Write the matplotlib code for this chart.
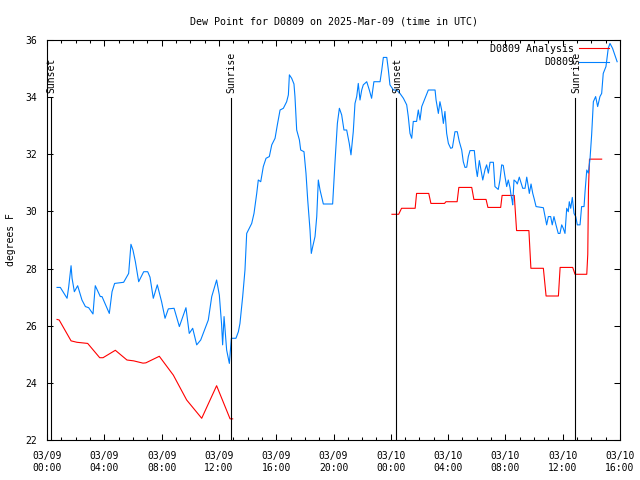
import numpy as np
import matplotlib
matplotlib.use("Agg")
import matplotlib.pyplot as plt

# hours since 2025-03-09 00:00 UTC
obs_hours = [0.70, 0.93, 1.40, 1.51, 1.68, 1.75, 1.91, 2.14, 2.44, 2.68, 2.91, 3.21, 3.37, 3.72, 3.84,
             4.19, 4.35, 4.54, 4.72, 5.35, 5.70, 5.86, 6.00, 6.17, 6.40, 6.75, 7.03, 7.19, 7.42, 7.70,
             8.00, 8.24, 8.47, 8.87, 9.24, 9.70, 9.93, 10.17, 10.45, 10.73, 11.26, 11.50, 11.84, 12.03,
             12.19, 12.26, 12.36, 12.54, 12.73, 12.87, 13.19, 13.36, 13.47, 13.66, 13.82, 13.94, 14.29,
             14.45, 14.64, 14.75, 14.92, 15.10, 15.29, 15.52, 15.69, 15.92, 16.08, 16.27, 16.50, 16.73,
             16.85, 16.92, 17.08, 17.24, 17.31, 17.43, 17.62, 17.71, 17.94, 18.08, 18.20, 18.36, 18.45,
             18.55, 18.71, 18.83, 18.94, 19.06, 19.29, 19.94, 20.10, 20.27, 20.41, 20.57, 20.73, 20.92,
             21.10, 21.22, 21.38, 21.50, 21.62, 21.73, 21.85, 21.97, 22.08, 22.32, 22.50, 22.66, 22.82,
             23.25, 23.37, 23.48, 23.72, 23.83, 23.94, 24.18, 24.41, 24.64, 24.88, 25.11, 25.22, 25.34,
             25.46, 25.57, 25.80, 25.92, 26.04, 26.16, 26.39, 26.62, 27.09, 27.16, 27.32, 27.43, 27.55,
             27.67, 27.78, 27.90, 28.02, 28.18, 28.30, 28.48, 28.64, 28.78, 28.95, 29.06, 29.18, 29.30,
             29.41, 29.53, 29.83, 29.95, 30.04, 30.18, 30.30, 30.42, 30.58, 30.69, 30.81, 30.93, 31.16,
             31.27, 31.50, 31.62, 31.74, 31.85, 31.97, 32.09, 32.20, 32.32, 32.39, 32.46, 32.51, 32.60,
             32.74, 32.83, 32.97, 33.07, 33.21, 33.37, 33.49, 33.60, 33.67, 33.79, 33.91, 34.00, 34.14,
             34.65, 34.77, 34.88, 35.00, 35.16, 35.27, 35.39, 35.53, 35.69, 35.81, 35.93, 36.04, 36.16,
             36.28, 36.39, 36.46, 36.56, 36.67, 36.79, 36.91, 37.02, 37.21, 37.32, 37.49, 37.56, 37.68,
             37.79, 37.91, 38.02, 38.14, 38.30, 38.44, 38.60, 38.72, 38.83, 39.02, 39.18, 39.30, 39.48,
             39.80]
obs_dewpt = [27.34, 27.34, 26.96, 27.34, 28.10, 27.66, 27.19, 27.40, 26.90, 26.67, 26.63, 26.41, 27.40,
             27.02, 27.02, 26.61, 26.43, 27.19, 27.48, 27.52, 27.83, 28.85, 28.65, 28.24, 27.54, 27.89,
             27.89, 27.70, 26.96, 27.43, 26.84, 26.26, 26.59, 26.61, 25.97, 26.63, 25.73, 25.91, 25.33,
             25.50, 26.20, 27.02, 27.60, 27.07, 26.03, 25.33, 26.32, 25.15, 24.68, 25.56, 25.56, 25.79,
             26.08, 27.02, 27.95, 29.23, 29.58, 29.93, 30.63, 31.10, 31.04, 31.57, 31.86, 31.92, 32.33,
             32.56, 33.03, 33.55, 33.61, 33.84, 34.08, 34.78, 34.66, 34.46, 34.02, 32.85, 32.50, 32.15,
             32.09, 31.33, 30.40, 29.35, 28.53, 28.77, 29.12, 29.82, 31.10, 30.75, 30.26, 30.26, 31.69,
             33.08, 33.61, 33.38, 32.85, 32.85, 32.38, 31.98, 32.79, 33.78, 34.02, 34.48, 33.90, 34.25,
             34.43, 34.54, 34.25, 33.96, 34.54, 34.54, 34.95, 35.39, 35.39, 34.95, 34.43, 34.25, 34.25,
             34.13, 33.96, 33.73, 33.32, 32.73, 32.56, 33.15, 33.15, 33.55, 33.20, 33.67, 33.96, 34.25,
             34.25, 33.90, 33.43, 33.84, 33.55, 33.08, 33.50, 32.73, 32.38, 32.21, 32.23, 32.79, 32.79,
             32.45, 32.15, 31.74, 31.54, 31.55, 31.92, 32.13, 32.13, 31.51, 31.22, 31.78, 31.45, 31.10,
             31.47, 31.63, 31.34, 31.72, 31.72, 30.87, 30.77, 31.10, 31.63, 31.61, 31.22, 30.87, 31.10,
             30.84, 30.58, 30.40, 30.23, 31.10, 31.04, 30.96, 31.20, 31.04, 30.81, 30.81, 31.20, 30.87,
             30.63, 30.96, 30.63, 30.46, 30.17, 30.13, 29.82, 29.53, 29.82, 29.82, 29.53, 29.82, 29.53,
             29.23, 29.23, 29.53, 29.41, 29.23, 30.11, 29.99, 30.34, 30.11, 30.49, 29.93, 29.82, 29.53,
             29.53, 30.17, 30.17, 30.69, 31.45, 31.34, 31.86, 32.68, 33.84, 34.02, 33.67, 34.02, 34.13,
             34.83, 35.07, 35.71, 35.88, 35.71, 35.24]

# analysis, two separate pieces
ana1_hours = [0.70, 0.85, 1.68, 2.09, 2.84, 3.68, 3.91, 4.77, 5.58, 6.05, 6.70, 6.90, 7.84, 8.82,
              9.75, 10.80, 11.84, 12.78, 12.96]
ana1_dewpt = [26.22, 26.20, 25.47, 25.42, 25.38, 24.88, 24.88, 25.14, 24.80, 24.77, 24.69, 24.70,
              24.93, 24.27, 23.40, 22.76, 23.90, 22.74, 22.74]
ana2_hours = [24.08, 24.55, 24.75, 25.70, 25.80, 26.65, 26.80, 27.75, 27.85, 28.63, 28.75, 29.65,
              29.80, 30.65, 30.78, 31.67, 31.77, 32.62, 32.78, 33.64, 33.78, 34.65, 34.84, 35.70,
              35.82, 36.70, 36.86, 37.68, 37.75, 37.80, 37.87, 38.72]
ana2_dewpt = [29.90, 29.90, 30.11, 30.11, 30.63, 30.63, 30.28, 30.28, 30.34, 30.34, 30.84, 30.84,
              30.42, 30.42, 30.14, 30.14, 30.56, 30.56, 29.33, 29.33, 28.01, 28.01, 27.04, 27.04,
              28.04, 28.04, 27.80, 27.80, 28.50, 30.80, 31.83, 31.83]

sun_hours = [0.26, 12.81, 24.39, 36.88]
sun_labels = ["Sunset", "Sunrise", "Sunset", "Sunrise"]

tick_hours = [0, 4, 8, 12, 16, 20, 24, 28, 32, 36, 40]
tick_labels = ["03/09\n00:00", "03/09\n04:00", "03/09\n08:00", "03/09\n12:00", "03/09\n16:00",
               "03/09\n20:00", "03/10\n00:00", "03/10\n04:00", "03/10\n08:00", "03/10\n12:00",
               "03/10\n16:00"]

plt.rcParams['font.family'] = 'DejaVu Sans Mono'
plt.rcParams['font.size'] = 7

fig = plt.figure(figsize=(6.4, 4.8), dpi=100)
ax = fig.add_axes([47/640, 40/480, 573/640, 400/480])

red = '#ff0000'
blue = '#0080ff'
lw = 0.8
ax.plot(ana1_hours, ana1_dewpt, color=red, lw=lw, label='D0809 Analysis')
ax.plot(ana2_hours, ana2_dewpt, color=red, lw=lw)
ax.plot(obs_hours, obs_dewpt, color=blue, lw=lw, label='D0809')

trans = ax.get_xaxis_transform()
for h, s in zip(sun_hours, sun_labels):
    ax.plot([h, h], [0, 0.855], color='black', lw=lw, transform=trans)
    ax.text(h + 0.05, 0.868, s, rotation=90, ha='center', va='bottom', transform=trans)

ax.set_xlim(0, 40)
ax.set_ylim(22, 36)
ax.set_xticks(tick_hours)
ax.set_xticklabels(tick_labels)
ax.set_xticks(np.arange(0, 41, 1), minor=True)
ax.set_yticks(np.arange(22, 37, 2))
ax.tick_params(which='both', direction='in', top=True, right=True, width=0.75)
ax.tick_params(which='major', length=4)
ax.tick_params(which='minor', length=2.5)
ax.tick_params(axis='x', pad=8)
ax.tick_params(axis='y', pad=7)
for sp in ax.spines.values():
    sp.set_linewidth(0.8)

ax.set_title("Dew Point for D0809 on 2025-Mar-09 (time in UTC)", fontsize=7.2, pad=11)
ax.set_ylabel("degrees F", labelpad=7)

ax.legend(loc='upper right', bbox_to_anchor=(0.981, 0.99), frameon=False, markerfirst=False,
          handlelength=3.0, handletextpad=0.5, labelspacing=0.35, borderaxespad=0.0,
          borderpad=0.0, fontsize=7.2)

plt.savefig('out.png', dpi=100)
